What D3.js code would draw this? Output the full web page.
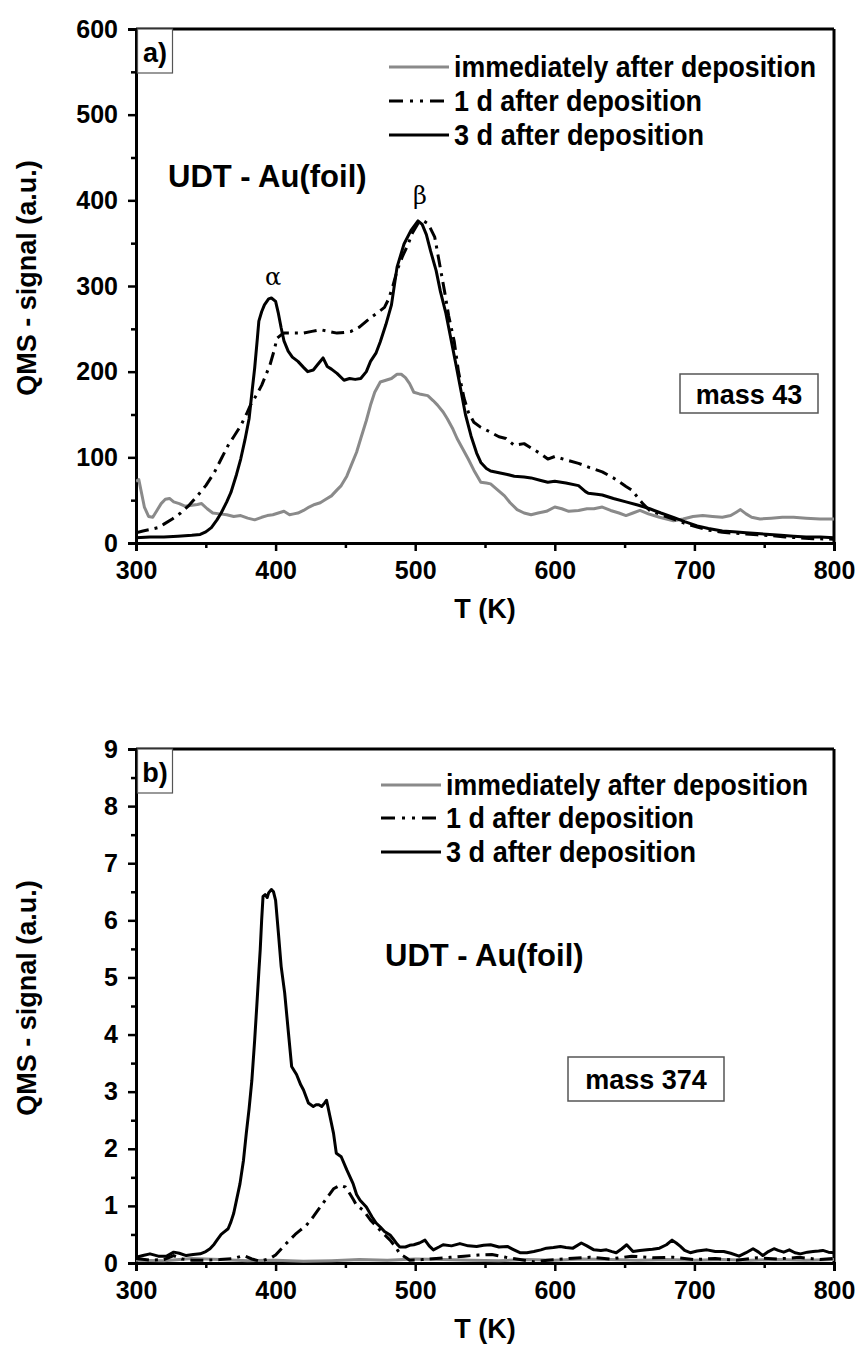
<!DOCTYPE html>
<html>
<head>
<meta charset="utf-8">
<script src="https://cdn.jsdelivr.net/npm/d3@7"></script>
<style>
  html, body { margin: 0; padding: 0; background: #fff; }
  svg { display: block; }
  text { font-family: "Liberation Sans", Arial, sans-serif; font-weight: bold; fill: #000; }
</style>
</head>
<body>
<svg id="chart" width="862" height="1347"></svg>
<script>
// ---- Data: TPD traces, temperature (K) vs QMS signal (a.u.) ----

// Panel a) mass 43
const massA_immediate = [[300,72],[302,74],[304,58],[306,42],[309,31],[312,30],[315,38],[318,46],[321,51],[324,52],[327,48],[331,46],[335,43],[340,44],[344,45],[347,46],[351,40],[355,35],[360,34],[365,33],[370,31],[375,32],[380,29],[385,27],[390,30],[394,32],[398,33],[402,35],[406,37],[410,33],[413,34],[416,35],[420,38],[424,42],[428,45],[432,47],[436,51],[440,55],[444,62],[447,67],[451,78],[454,90],[458,106],[461,122],[465,143],[468,161],[471,176],[475,188],[479,190],[483,192],[487,197],[490,197],[493,193],[496,186],[499,176],[503,174],[509,172],[513,166],[516,161],[520,153],[523,145],[527,133],[530,122],[534,110],[538,98],[542,85],[547,71],[551,70],[554,69],[559,62],[564,55],[568,47],[573,39],[578,35],[583,33],[588,35],[594,37],[600,42],[605,40],[610,37],[617,38],[623,40],[628,40],[634,42],[640,38],[646,35],[651,32],[656,35],[661,38],[667,34],[675,30],[685,26],[692,28],[699,31],[706,32],[713,31],[720,30],[726,32],[730,36],[733,39],[737,34],[741,30],[747,28],[755,29],[763,30],[771,30],[780,29],[790,28],[800,28]];

const massA_day1 = [[300,12],[305,14],[311,16],[316,18],[320,22],[326,28],[332,35],[338,44],[344,55],[350,67],[356,82],[361,98],[366,114],[370,124],[375,137],[379,150],[382,161],[386,172],[390,184],[393,196],[396,208],[399,225],[401,239],[404,243],[406,245],[413,245],[420,245],[426,247],[432,249],[438,247],[444,245],[450,246],[454,247],[460,252],[468,263],[474,270],[478,275],[481,285],[484,300],[487,318],[491,335],[495,349],[498,362],[502,373],[506,376],[509,373],[511,367],[514,357],[517,330],[521,294],[524,265],[528,235],[531,200],[535,169],[538,153],[542,141],[547,135],[552,131],[560,124],[565,122],[571,114],[578,116],[583,111],[590,104],[595,98],[600,101],[608,97],[617,93],[625,88],[634,83],[642,76],[651,66],[655,62],[658,56],[663,46],[668,38],[676,33],[685,28],[693,23],[702,18.5],[710,15],[720,12.6],[728,11.5],[737,10.6],[745,9.5],[754,8.7],[765,7],[775,6],[785,5],[795,4.7],[800,4.5]];

const massA_day3 = [[300,6],[310,7],[320,7],[330,8],[340,9],[346,10],[350,13],[354,18],[358,27],[361,35],[365,48],[368,59],[372,80],[375,98],[378,120],[381,145],[383,175],[385,204],[387,240],[388,259],[390,270],[392,278],[395,285],[397,286],[400,282],[402,268],[404,251],[406,236],[409,224],[412,217],[416,212],[420,205],[423,200],[427,202],[430,208],[434,216],[437,206],[440,203],[444,198],[449,190],[453,192],[457,191],[461,192],[465,200],[468,212],[472,222],[475,235],[479,255],[483,278],[487,322],[492,349],[497,365],[502,376],[505,372],[508,360],[511,341],[515,318],[518,294],[522,268],[525,243],[529,210],[533,176],[536,150],[540,125],[544,105],[547,94],[551,87],[554,84],[560,82],[566,80],[571,78],[578,77],[583,76],[590,73],[595,71],[600,72],[608,70],[617,67],[622,60],[624,58],[630,57],[634,56],[642,52],[651,48],[660,44],[668,40],[676,35],[685,30],[693,25],[702,20],[710,17],[720,14],[728,13],[737,12],[745,11],[754,10],[762,9],[771,8],[780,7],[790,7],[800,6]];

// Panel b) mass 374
const massB_immediate = [[300,0.05],[320,0.04],[340,0.08],[360,0.06],[380,0.04],[400,0.05],[420,0.03],[440,0.04],[460,0.06],[480,0.05],[500,0.07],[520,0.06],[540,0.05],[560,0.04],[580,0.06],[600,0.05],[620,0.07],[640,0.06],[660,0.05],[680,0.06],[700,0.05],[720,0.06],[740,0.05],[760,0.06],[780,0.05],[800,0.06]];

const massB_day1 = [[300,0.08],[310,0.05],[320,0.06],[327,0.13],[333,0.07],[340,0.05],[350,0.05],[360,0.06],[370,0.08],[377,0.13],[383,0.07],[389,0.03],[396,0.08],[400,0.14],[403,0.22],[406,0.3],[410,0.4],[414,0.5],[417.5,0.57],[422,0.66],[427,0.81],[432,0.98],[436.5,1.13],[441.5,1.3],[446,1.36],[450,1.33],[453,1.22],[456,1.1],[458,1.01],[463,0.92],[468,0.75],[472,0.65],[475,0.57],[482,0.4],[486,0.28],[489,0.16],[493,0.1],[496,0.05],[505,0.06],[515,0.08],[525,0.1],[535,0.12],[545,0.14],[555,0.15],[565,0.1],[575,0.06],[585,0.02],[595,0.05],[610,0.08],[625,0.1],[640,0.07],[655,0.12],[670,0.09],[685,0.1],[700,0.06],[715,0.08],[730,0.05],[745,0.09],[760,0.07],[775,0.1],[790,0.06],[800,0.08]];

const massB_day3 = [[300,0.1],[305,0.13],[310,0.16],[316,0.12],[322,0.12],[327,0.19],[331,0.17],[336,0.13],[341,0.15],[346,0.16],[350,0.2],[353,0.25],[356,0.33],[358,0.4],[361,0.5],[363,0.54],[366,0.6],[368,0.72],[370,0.87],[372,1.1],[374.5,1.39],[377,1.8],[379,2.27],[381,2.7],[383,3.2],[385,3.9],[386.5,4.49],[388,5.1],[389,5.49],[390,6.0],[391,6.42],[392.5,6.45],[394,6.4],[395,6.48],[397,6.54],[398.5,6.5],[400,6.35],[402,5.78],[404,5.19],[406.5,4.73],[409,4.08],[411.5,3.44],[413,3.38],[415,3.3],[418,3.12],[420,3.03],[423.5,2.8],[427,2.74],[429,2.77],[431,2.77],[433,2.74],[435,2.8],[436.5,2.85],[439,2.56],[441.5,2.27],[443.5,1.92],[447,1.86],[451,1.63],[455.5,1.39],[458,1.2],[460.5,1.1],[465,0.98],[469,0.81],[472,0.7],[475,0.63],[478,0.55],[482,0.49],[484,0.43],[487,0.33],[489,0.28],[493,0.28],[496,0.31],[499,0.32],[503,0.35],[507,0.4],[510,0.3],[513,0.23],[517,0.28],[520,0.32],[526,0.3],[532,0.34],[538,0.3],[544,0.29],[549,0.31],[554,0.32],[560,0.28],[566,0.29],[570,0.24],[575,0.18],[580,0.18],[585,0.2],[590,0.23],[594,0.26],[599,0.27],[604,0.29],[608,0.27],[613,0.26],[619,0.35],[623,0.3],[628,0.23],[633,0.22],[637,0.23],[641,0.2],[644,0.18],[648,0.25],[651.5,0.32],[656,0.2],[661,0.22],[666,0.23],[670,0.24],[675,0.26],[680,0.32],[684,0.4],[687,0.35],[690,0.29],[693,0.22],[697,0.18],[702,0.21],[709,0.23],[715,0.2],[721,0.2],[726,0.17],[732,0.12],[737,0.18],[742,0.25],[746,0.19],[749,0.13],[753,0.2],[757,0.25],[760,0.22],[764,0.19],[768,0.23],[772,0.18],[776,0.16],[781,0.19],[785,0.2],[789,0.21],[792,0.22],[796,0.19],[800,0.18]];

// Axis ticks
const xTicks = [300, 400, 500, 600, 700, 800];
const yTicksA = [0, 100, 200, 300, 400, 500, 600];
const yTicksB = [0, 1, 2, 3, 4, 5, 6, 7, 8, 9];

const legendLabels = ["immediately after deposition", "1 d after deposition", "3 d after deposition"];

// ---- Drawing ----
const svg = d3.select("#chart");
const plotLeft = 136, plotRight = 834;

const seriesStyle = [
  { stroke: "#8a8a8a", dash: null },
  { stroke: "#000", dash: "13,6,3,6" },
  { stroke: "#000", dash: null }
];

function drawPanel(cfg) {
  const g = svg.append("g");
  const x = d3.scaleLinear().domain([300, 800]).range([plotLeft, plotRight]);
  const y = d3.scaleLinear().domain([0, cfg.yMax]).range([cfg.bottom, cfg.top]);

  const clipId = "clip-" + cfg.id;
  g.append("clipPath").attr("id", clipId)
    .append("rect").attr("x", plotLeft).attr("y", cfg.top)
    .attr("width", plotRight - plotLeft).attr("height", cfg.bottom - cfg.top);

  // Minor ticks halfway between the labelled ones
  const xMinor = d3.range(350, 800, 100);
  const yMinor = cfg.yTicks.slice(0, -1).map(v => v + cfg.yStep / 2);

  const xAxis = d3.axisBottom(x).tickValues(xTicks).tickSize(8).tickPadding(10).tickFormat(d3.format("d"));
  const yAxis = d3.axisLeft(y).tickValues(cfg.yTicks).tickSize(8).tickPadding(10).tickFormat(d3.format("d"));

  const xa = g.append("g").attr("transform", `translate(0,${cfg.bottom})`).call(xAxis);
  const ya = g.append("g").attr("transform", `translate(${plotLeft},0)`).call(yAxis);
  g.append("g").attr("transform", `translate(0,${cfg.bottom})`)
    .call(d3.axisBottom(x).tickValues(xMinor).tickSize(5).tickFormat(""))
    .call(s => s.select(".domain").remove());
  g.append("g").attr("transform", `translate(${plotLeft},0)`)
    .call(d3.axisLeft(y).tickValues(yMinor).tickSize(5).tickFormat(""))
    .call(s => s.select(".domain").remove());

  g.selectAll(".domain").attr("stroke", "#000").attr("stroke-width", 3);
  g.selectAll(".tick line").attr("stroke", "#000").attr("stroke-width", 2.5);
  xa.selectAll(".tick text").style("font-size", "25px").attr("fill", "#000");
  ya.selectAll(".tick text").style("font-size", "25px").attr("fill", "#000");

  // Frame: top and right
  g.append("line").attr("x1", plotLeft).attr("x2", plotRight)
    .attr("y1", cfg.top).attr("y2", cfg.top).attr("stroke", "#000").attr("stroke-width", 3);
  g.append("line").attr("x1", plotRight).attr("x2", plotRight)
    .attr("y1", cfg.top).attr("y2", cfg.bottom).attr("stroke", "#000").attr("stroke-width", 3);

  // Traces
  const line = d3.line().x(d => x(d[0])).y(d => y(d[1])).curve(d3.curveLinear);
  const traces = g.append("g").attr("clip-path", `url(#${clipId})`);
  cfg.series.forEach((s, i) => {
    traces.append("path").datum(s)
      .attr("d", line)
      .attr("fill", "none")
      .attr("stroke", seriesStyle[i].stroke)
      .attr("stroke-width", 3)
      .attr("stroke-linejoin", "round")
      .attr("stroke-dasharray", seriesStyle[i].dash);
  });

  // Axis titles
  g.append("text").attr("x", (plotLeft + plotRight) / 2).attr("y", cfg.bottom + 75)
    .attr("text-anchor", "middle").style("font-size", "27px").text("T (K)");
  g.append("text")
    .attr("transform", `translate(36,${cfg.ylabelY}) rotate(-90)`)
    .attr("text-anchor", "middle").style("font-size", "27px")
    .text("QMS - signal (a.u.)");

  // Panel tag box
  g.append("rect").attr("x", plotLeft + 1.5).attr("y", cfg.top)
    .attr("width", 35).attr("height", 44)
    .attr("fill", "#fff").attr("stroke", "#555").attr("stroke-width", 1.2);
  g.append("text").attr("x", plotLeft + 19).attr("y", cfg.top + 33)
    .attr("text-anchor", "middle").style("font-size", "27px").text(cfg.tag);

  // Legend
  const lg = g.append("g");
  legendLabels.forEach((lab, i) => {
    const ly = cfg.legendY[i];
    lg.append("line").attr("x1", cfg.legendX).attr("x2", cfg.legendX + 60)
      .attr("y1", ly).attr("y2", ly)
      .attr("stroke", seriesStyle[i].stroke).attr("stroke-width", 3)
      .attr("stroke-dasharray", i === 1 ? "14,7,3,7,3,7,14" : null);
    lg.append("text").attr("x", cfg.legendX + 65).attr("y", ly + 10)
      .style("font-size", "30px")
      .attr("textLength", cfg.legendWidths[i]).attr("lengthAdjust", "spacingAndGlyphs")
      .text(lab);
  });

  // Sample label
  g.append("text").attr("x", cfg.udtX).attr("y", cfg.udtY)
    .style("font-size", "31px").text("UDT - Au(foil)");

  // Mass box
  const mb = cfg.massBox;
  g.append("rect").attr("x", mb.x).attr("y", mb.y).attr("width", mb.w).attr("height", mb.h)
    .attr("fill", "#fff").attr("stroke", "#555").attr("stroke-width", 1.5);
  g.append("text").attr("x", mb.x + mb.w / 2).attr("y", mb.y + mb.h / 2 + 10)
    .attr("text-anchor", "middle").style("font-size", "27px").text(cfg.massLabel);

  return { g, x, y };
}

const pa = drawPanel({
  id: "a", top: 29, bottom: 543, yMax: 600, yTicks: yTicksA, yStep: 100,
  series: [massA_immediate, massA_day1, massA_day3],
  tag: "a)", ylabelY: 278,
  legendX: 389, legendY: [67, 101, 135], legendWidths: [362, 248, 250],
  udtX: 168, udtY: 187,
  massBox: { x: 680, y: 374, w: 138, h: 39 }, massLabel: "mass 43"
});

// Peak labels in panel a
pa.g.append("text").attr("x", 273).attr("y", 285).attr("text-anchor", "middle")
  .style("font-family", "'DejaVu Serif', serif").style("font-weight", "normal")
  .style("font-size", "24px").text("α");
pa.g.append("text").attr("x", 420).attr("y", 204).attr("text-anchor", "middle")
  .style("font-family", "'DejaVu Serif', serif").style("font-weight", "normal")
  .style("font-size", "24px").text("β");

drawPanel({
  id: "b", top: 749, bottom: 1263, yMax: 9, yTicks: yTicksB, yStep: 1,
  series: [massB_immediate, massB_day1, massB_day3],
  tag: "b)", ylabelY: 998,
  legendX: 381, legendY: [785, 818, 852], legendWidths: [362, 248, 250],
  udtX: 385, udtY: 966,
  massBox: { x: 568, y: 1057, w: 156, h: 44 }, massLabel: "mass 374"
});
</script>
</body>
</html>
